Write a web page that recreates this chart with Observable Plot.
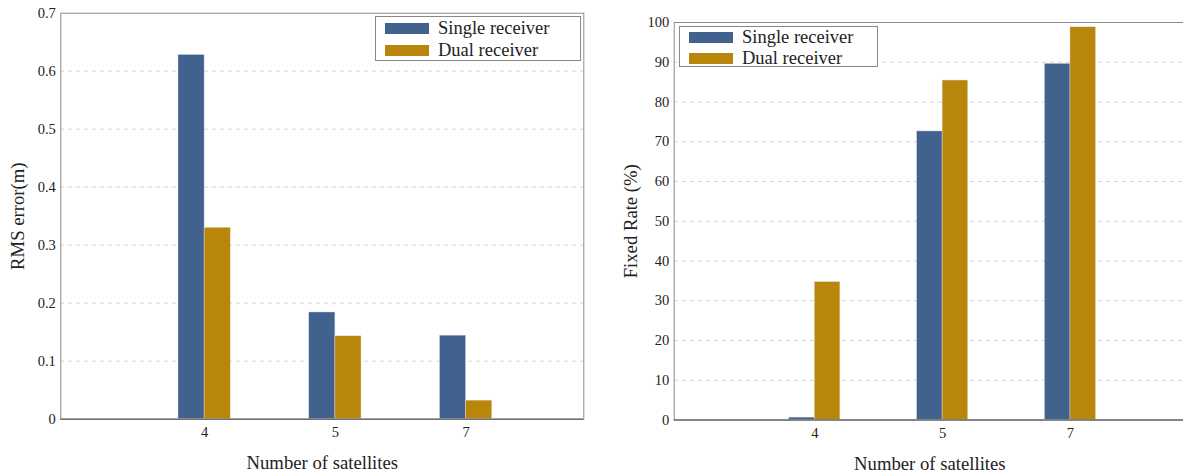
<!DOCTYPE html>
<html>
<head>
<meta charset="utf-8">
<script src="https://cdn.jsdelivr.net/npm/d3@7"></script>
<script src="https://cdn.jsdelivr.net/npm/@observablehq/plot@0.6"></script>
<style>
  html, body { margin: 0; padding: 0; background: #fff; overflow: hidden; }
  #wrap { position: relative; width: 1183px; height: 473px; overflow: hidden; font-family: "Liberation Serif", "DejaVu Serif", serif; }
  .panel { position: absolute; top: 0; width: 600px; height: 473px; }
  .panel svg { display: block; max-width: none !important; width: 600px; height: 473px; }
  .panel svg text { font-family: "Liberation Serif", "DejaVu Serif", serif; fill: #222; }
  .legend { position: absolute; background: #fff; border: 1px solid #888; box-sizing: border-box; }
  .legend .row { position: absolute; left: 0; width: 100%; display: flex; align-items: center; height: 22px; }
  .legend .sw { flex: 0 0 44px; width: 44px; height: 11px; margin-left: 9px; margin-right: 9px; }
  .legend .lab { font-size: 18.5px; color: #222; line-height: 22px; white-space: nowrap; font-family: "Liberation Serif", serif; }
</style>
</head>
<body>
<div id="wrap"></div>
<script>
const categories = ["4", "5", "7"];
const seriesNames = ["Single receiver", "Dual receiver"];
const seriesColors = ["#41618f", "#b8860b"];
const rmsSingle = [0.628, 0.184, 0.144];
const rmsDual = [0.330, 0.143, 0.032];
const fixSingle = [0.6, 72.6, 89.6];
const fixDual = [34.7, 85.4, 98.8];
const rmsTicks = [0, 0.1, 0.2, 0.3, 0.4, 0.5, 0.6, 0.7];
const fixTicks = [0, 10, 20, 30, 40, 50, 60, 70, 80, 90, 100];
const xLabel = "Number of satellites";
const rmsLabel = "RMS error(m)";
const fixLabel = "Fixed Rate (%)";

const BAR = 0.2;
function rowsFor(single, dual) {
  const out = [];
  categories.forEach((c, i) => {
    [single, dual].forEach((arr, s) => {
      const x1 = i - BAR + s * BAR;
      out.push({ i, x1, x2: x1 + BAR, value: arr[i], series: seriesNames[s] });
    });
  });
  return out;
}

function makeChart({ rows, ticks, yLabel, width, margins, xDomain }) {
  const yMax = ticks[ticks.length - 1];
  const svg = Plot.plot({
    width, height: 473,
    marginLeft: margins[0], marginRight: margins[1], marginTop: margins[2], marginBottom: margins[3],
    style: { fontSize: "14.5px", fontFamily: "Liberation Serif, serif", background: "transparent", overflow: "visible" },
    x: { type: "linear", domain: xDomain },
    y: { domain: [0, yMax] },
    color: { domain: seriesNames, range: seriesColors },
    marks: [
      Plot.gridY(ticks.slice(1, -1), { stroke: "#d2d2d2", strokeOpacity: 1, strokeDasharray: "4,4" }),
      Plot.rectY(rows, { x1: "x1", x2: "x2", y: "value", fill: "series", stroke: "#dfe3ea", strokeWidth: 0.6, strokeOpacity: 0.7, inset: 0 }),
      Plot.frame({ stroke: "#8c8c8c", strokeWidth: 1 }),
      Plot.ruleY([0], { stroke: "#707070", strokeWidth: 1.4 }),
      Plot.axisY(ticks, { tickSize: 0, tickPadding: 5, tickFormat: d => String(d), label: yLabel, labelAnchor: "center", labelOffset: 50, labelArrow: "none" }),
      Plot.axisX(categories.map((c, i) => i), { tickSize: 0, tickPadding: 8, tickFormat: i => categories[i], label: xLabel, labelAnchor: "center", labelOffset: 50, labelArrow: "none" })
    ]
  });
  svg.querySelectorAll("text").forEach(t => {
    if (t.textContent === xLabel || t.textContent === yLabel) {
      t.style.fontSize = "18.7px";
    }
  });
  return svg;
}

function makeLegend(parent, left, top, w, h, firstRowTop, rowGap) {
  const lg = document.createElement("div");
  lg.className = "legend";
  Object.assign(lg.style, { left: left + "px", top: top + "px", width: w + "px", height: h + "px" });
  seriesNames.forEach((name, s) => {
    const row = document.createElement("div");
    row.className = "row";
    row.style.top = (firstRowTop + s * rowGap) + "px";
    const sw = document.createElement("div");
    sw.className = "sw";
    sw.style.background = seriesColors[s];
    const lab = document.createElement("span");
    lab.className = "lab";
    lab.textContent = name;
    row.appendChild(sw); row.appendChild(lab);
    lg.appendChild(row);
  });
  parent.appendChild(lg);
}

const wrap = document.getElementById("wrap");

const p1 = document.createElement("div");
p1.className = "panel"; p1.style.left = "0px";
p1.appendChild(makeChart({
  rows: rowsFor(rmsSingle, rmsDual), ticks: rmsTicks, yLabel: rmsLabel,
  width: 600, margins: [60.3, 16.7, 12.7, 54.3], xDomain: [-1.1, 2.9]
}));
wrap.appendChild(p1);

const p2 = document.createElement("div");
p2.className = "panel"; p2.style.left = "600px";
p2.appendChild(makeChart({
  rows: rowsFor(fixSingle, fixDual), ticks: fixTicks, yLabel: fixLabel,
  width: 600, margins: [73.7, 15, 22, 53.5], xDomain: [-1.1, 2.9]
}));
wrap.appendChild(p2);

makeLegend(wrap, 375, 16, 206, 45, 0, 22);
makeLegend(wrap, 679, 26, 199, 41, -1, 21);
</script>
</body>
</html>
